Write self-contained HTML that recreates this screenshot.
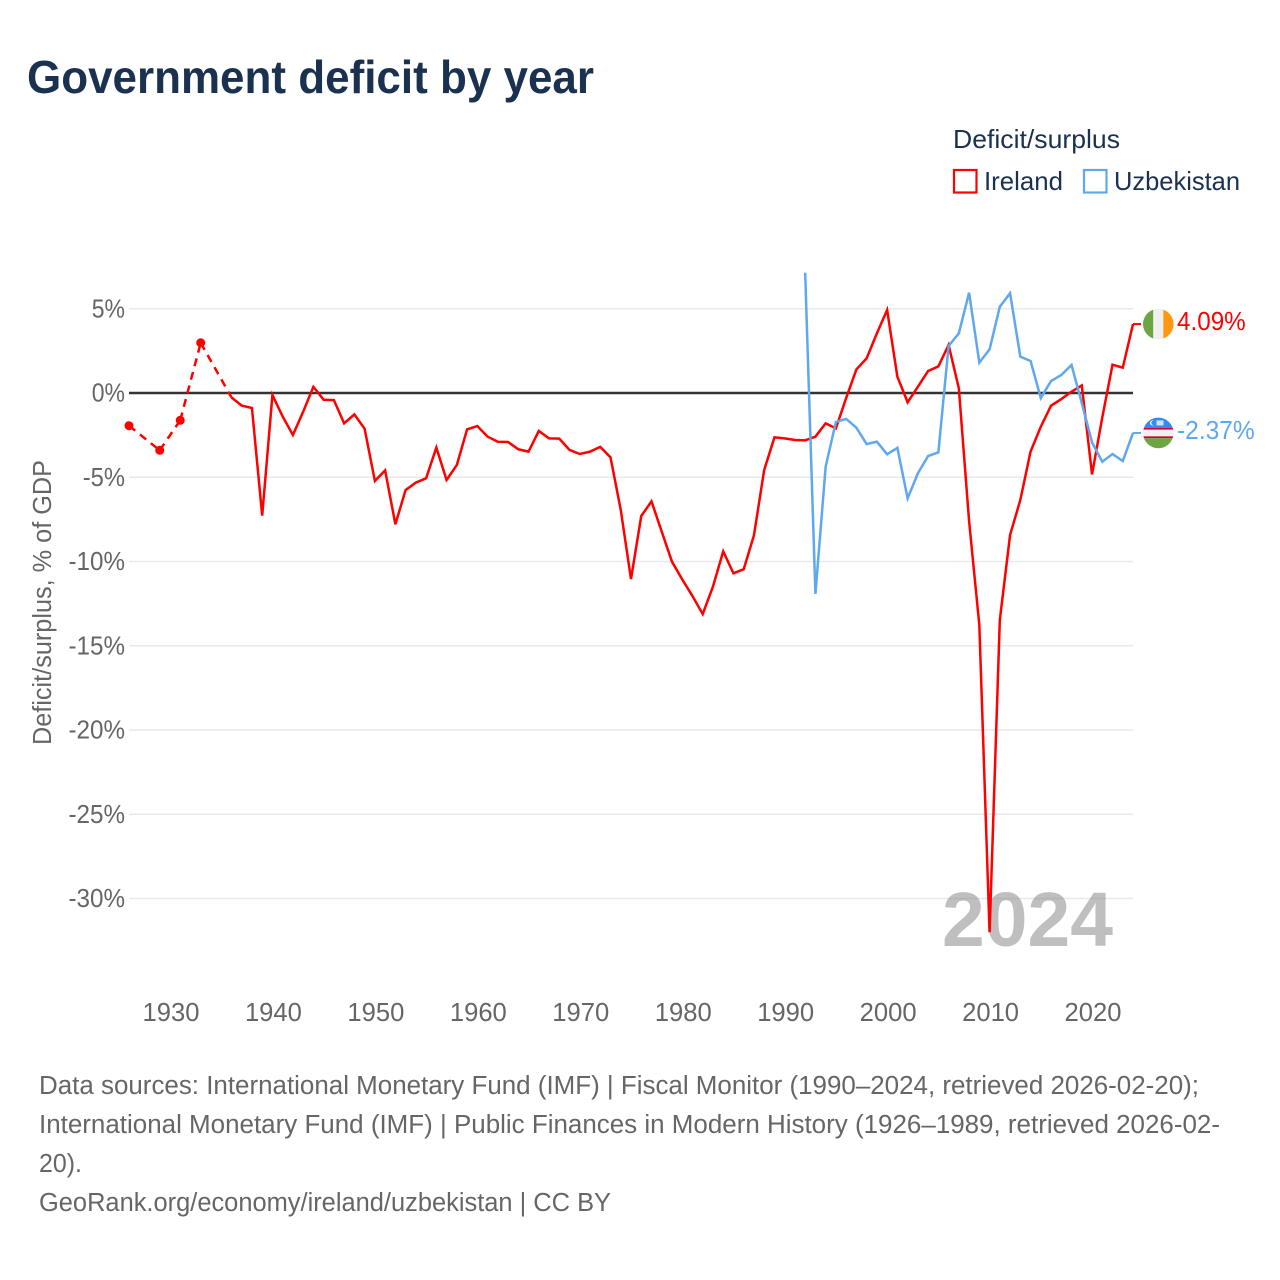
<!DOCTYPE html>
<html lang="en">
<head>
<meta charset="utf-8">
<title>Government deficit by year</title>
<style>
html,body{margin:0;padding:0;background:#fff;width:1280px;height:1280px;overflow:hidden}
svg{display:block;font-family:"Liberation Sans",sans-serif}
</style>
</head>
<body>
<svg id="chart" xmlns="http://www.w3.org/2000/svg" width="1280" height="1280" viewBox="0 0 1280 1280">
  <rect x="0" y="0" width="1280" height="1280" fill="#fff"/>
  <text x="27" y="93" font-size="46" font-weight="700" fill="#1a3150" textLength="567" lengthAdjust="spacingAndGlyphs">Government deficit by year</text>

  <g>
    <text x="953" y="148" font-size="26" fill="#1a3150" textLength="167" lengthAdjust="spacingAndGlyphs">Deficit/surplus</text>
    <g>
      <rect x="954" y="170" width="22.5" height="22.5" fill="none" stroke="#ff0000" stroke-width="2.2"/>
      <text x="984" y="190" font-size="26" fill="#1a3150" textLength="79" lengthAdjust="spacingAndGlyphs">Ireland</text>
    </g>
    <g>
      <rect x="1084" y="170" width="22.5" height="22.5" fill="none" stroke="#5fa8ee" stroke-width="2.2"/>
      <text x="1114" y="190" font-size="26" fill="#1a3150" textLength="126" lengthAdjust="spacingAndGlyphs">Uzbekistan</text>
    </g>
  </g>

  <text transform="translate(51,745) rotate(-90)" font-size="25.5" fill="#666" textLength="285" lengthAdjust="spacingAndGlyphs">Deficit/surplus, % of GDP</text>

  <g id="grid"></g>
  <g id="y-labels"></g>
  <g id="x-labels"></g>

  <text x="942" y="946" font-size="77" font-weight="700" fill="rgba(128,128,128,0.5)" textLength="171" lengthAdjust="spacingAndGlyphs">2024</text>

  <g id="series"></g>

  <g id="flag-ie"></g>
  <g id="flag-uz"></g>
  <g id="end-labels"></g>

  <g font-size="25.5" fill="#666">
    <text x="39" y="1094" textLength="1160" lengthAdjust="spacingAndGlyphs">Data sources: International Monetary Fund (IMF) | Fiscal Monitor (1990–2024, retrieved 2026-02-20);</text>
    <text x="39" y="1133" textLength="1181" lengthAdjust="spacingAndGlyphs">International Monetary Fund (IMF) | Public Finances in Modern History (1926–1989, retrieved 2026-02-</text>
    <text x="39" y="1172" textLength="43" lengthAdjust="spacingAndGlyphs">20).</text>
    <text x="39" y="1211" textLength="572" lengthAdjust="spacingAndGlyphs">GeoRank.org/economy/ireland/uzbekistan | CC BY</text>
  </g>
</svg>

<script>
var yTickValues = [5, 0, -5, -10, -15, -20, -25, -30];
var xTickYears = [1930, 1940, 1950, 1960, 1970, 1980, 1990, 2000, 2010, 2020];

var irelandStartYear = 1926;
var irelandValues = [
  -1.94, null, null, -3.4, null, -1.62, null, 2.98, null, null,
  -0.26, -0.75, -0.89, -7.28, -0.12, -1.4, -2.49, -1.11, 0.37, -0.4,
  -0.42, -1.8, -1.27, -2.12, -5.22, -4.59, -7.79, -5.76, -5.32, -5.06,
  -3.24, -5.16, -4.27, -2.16, -1.96, -2.59, -2.89, -2.91, -3.34, -3.48,
  -2.25, -2.69, -2.71, -3.38, -3.62, -3.48, -3.2, -3.82, -6.94, -11.04,
  -7.3, -6.43, -8.23, -10.01, -11.06, -12.05, -13.12, -11.49, -9.4, -10.7,
  -10.46, -8.45, -4.57, -2.63, -2.69, -2.79, -2.81, -2.59, -1.8, -2.1,
  -0.3, 1.4, 2.06, 3.54, 4.93, 0.97, -0.55, 0.37, 1.31, 1.58,
  2.85, 0.28, -7.6, -13.77, -32.0, -13.47, -8.43, -6.35, -3.48, -2.0,
  -0.75, -0.36, 0.08, 0.45, -4.83, -1.45, 1.68, 1.5, 4.09
];

var uzbekistanStartYear = 1992;
var uzbekistanValues = [
  7.14, -11.93, -4.37, -1.72, -1.54, -2.06, -3.03, -2.89, -3.64, -3.26,
  -6.25, -4.77, -3.74, -3.52, 2.79, 3.54, 5.95, 1.8, 2.59, 5.12,
  5.92, 2.16, 1.9, -0.3, 0.71, 1.07, 1.66, -0.6, -2.93, -4.08,
  -3.62, -4.04, -2.37
];

var SVGNS = 'http://www.w3.org/2000/svg';
function xScale(year) { return 129 + (year - 1926) * 10.245; }
function yScale(value) { return 393 - value * 16.85; }
function make(tag, attrs, parent) {
  var el = document.createElementNS(SVGNS, tag);
  for (var k in attrs) el.setAttribute(k, attrs[k]);
  parent.appendChild(el);
  return el;
}
function labelWidth(s) {
  var w = 0;
  for (var i = 0; i < s.length; i++) {
    var c = s.charAt(i);
    w += c === '%' ? 19 : c === '-' ? 9 : c === '.' ? 7 : 14.25;
  }
  return w;
}

var grid = document.getElementById('grid');
var yLabels = document.getElementById('y-labels');
var xLabels = document.getElementById('x-labels');
var series = document.getElementById('series');
var endLabels = document.getElementById('end-labels');

yTickValues.forEach(function (v) {
  if (v === 0) return;
  var line = make('line', {x1: 129, x2: 1133, y1: yScale(v), y2: yScale(v), stroke: '#e9e9e9', 'stroke-width': 1.5}, grid);
  
  
});
yTickValues.forEach(function (v) {
  var s = v + '%';
  var w = labelWidth(s);
  var t = make('text', {x: 125 - w, y: yScale(v) + 8.5, 'font-size': 25.6, fill: '#666', textLength: w, lengthAdjust: 'spacingAndGlyphs'}, yLabels);
  
  
  t.textContent = s;
});
xTickYears.forEach(function (yr) {
  var t = make('text', {x: xScale(yr) + 1, y: 1021, 'font-size': 25.6, fill: '#666', 'text-anchor': 'middle'}, xLabels);
  
  
  t.textContent = String(yr);
});

var zeroLine = make('line', {x1: 129, x2: 1133, y1: yScale(0), y2: yScale(0), stroke: '#333', 'stroke-width': 2.6}, grid);



function drawSeries(startYear, values, color, key) {
  var runs = [], current = [], prev = null;
  values.forEach(function (v, i) {
    if (v === null) {
      if (current.length) runs.push(current);
      current = [];
      return;
    }
    var pt = [xScale(startYear + i), yScale(v)];
    if (!current.length && prev) {
      var dash = make('line', {x1: prev[0], y1: prev[1], x2: pt[0], y2: pt[1], stroke: color, 'stroke-width': 2.5, 'stroke-dasharray': '8 6'}, series);
      
      
    }
    current.push(pt);
    prev = pt;
  });
  if (current.length) runs.push(current);
  runs.forEach(function (run) {
    if (run.length === 1) {
      var dot = make('circle', {cx: run[0][0], cy: run[0][1], r: 4.5, fill: color}, series);
      
      
    } else {
      var d = run.map(function (p, i) { return (i ? 'L' : 'M') + p[0].toFixed(2) + ' ' + p[1].toFixed(2); }).join(' ');
      var path = make('path', {d: d, fill: 'none', stroke: color, 'stroke-width': 2.5, 'stroke-linejoin': 'miter'}, series);
      
      
    }
  });
  var last = lastValue(values);
  var lastY = yScale(last);
  var conn = make('line', {x1: 1133, x2: 1141, y1: lastY, y2: lastY, stroke: color, 'stroke-width': 2}, series);
  
  
  var s = last.toFixed(2) + '%';
  var label = make('text', {x: 1177, y: lastY + 6, 'font-size': 25.6, fill: color, textLength: labelWidth(s), lengthAdjust: 'spacingAndGlyphs'}, endLabels);
  
  
  label.textContent = s;
  return lastY;
}
function lastValue(values) {
  for (var i = values.length - 1; i >= 0; i--) if (values[i] !== null) return values[i];
}

var ieY = drawSeries(irelandStartYear, irelandValues, '#ff0000', 'ireland');
var uzY = drawSeries(uzbekistanStartYear, uzbekistanValues, '#5fa8ee', 'uzbekistan');

function flagBase(group, id, cy) {
  var clip = make('clipPath', {id: id}, group);
  make('circle', {cx: 1158.3, cy: cy, r: 15.3}, clip);
  return make('g', {'clip-path': 'url(#' + id + ')'}, group);
}
var ie = flagBase(document.getElementById('flag-ie'), 'clip-ie', ieY);
make('rect', {x: 1143, y: ieY - 16, width: 10.3, height: 32, fill: '#6da544'}, ie);
make('rect', {x: 1153.3, y: ieY - 16, width: 10, height: 32, fill: '#f0f0f0'}, ie);
make('rect', {x: 1163.3, y: ieY - 16, width: 10.3, height: 32, fill: '#ff9811'}, ie);

var uz = flagBase(document.getElementById('flag-uz'), 'clip-uz', uzY);
make('rect', {x: 1143, y: uzY - 16, width: 31, height: 11, fill: '#338af3'}, uz);
make('rect', {x: 1143, y: uzY - 5, width: 31, height: 1.8, fill: '#d80027'}, uz);
make('rect', {x: 1143, y: uzY - 3.2, width: 31, height: 6.6, fill: '#f0f0f0'}, uz);
make('rect', {x: 1143, y: uzY + 3.4, width: 31, height: 1.8, fill: '#d80027'}, uz);
make('rect', {x: 1143, y: uzY + 5.2, width: 31, height: 11, fill: '#6da544'}, uz);
make('circle', {cx: 1152.5, cy: uzY - 10, r: 2.6, fill: '#f0f0f0'}, uz);
make('circle', {cx: 1153.6, cy: uzY - 10, r: 2.2, fill: '#338af3'}, uz);
make('rect', {x: 1156.5, y: uzY - 12.5, width: 7, height: 5, fill: '#cfe2fb'}, uz);
</script>
</body>
</html>
